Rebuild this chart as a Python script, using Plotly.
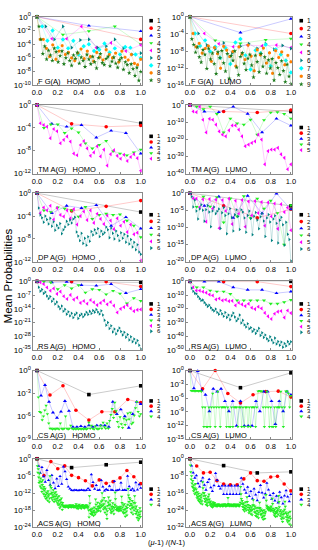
import plotly.graph_objects as go

# ---------------- data: log10(mean probability) per series (series 1, 2, 3, ...) ----------------
FGA_HOMO = [
    [0],
    [0, -3.3],
    [0, -1.3, -2.1],
    [0, -2.6, -2.1, -1.4, -4.0],
    [0, -3.2, -3.2, -1.4, -4.5, -3.8, -5.0, -4.1],
    [0, -1.4, -3.3, -1.4, -4.5, -3.4, -3.3, -4.5, -4.3, -3.3, -4.6, -5.5, -5.3],
    [0, -1.4, -3.5, -2.0, -4.5, -3.3, -4.6, -3.5, -5.5, -4.3, -4.0, -5.0, -4.8, -3.9, -5.2, -4.6, -5.5, -4.4, -4.5, -5.5, -6.0],
    [0, -3.3, -3.3, -4.6, -5.8, -4.1, -6.2, -5.0, -4.2, -5.5, -5.2, -6.0, -6.4, -5.3, -4.7, -6.1, -5.0, -5.8, -6.5, -5.2,
     -5.9, -6.3, -4.8, -5.5, -6.0, -5.3, -6.6, -5.0, -5.9, -6.3, -5.5, -6.8, -7.0, -6.2],
    [0, -1.4, -3.3, -5.4, -4.3, -6.2, -4.9, -5.6, -6.4, -4.6, -5.1, -6.6, -5.7, -5.0, -6.9, -6.0, -5.3, -6.4, -7.1, -5.6,
     -6.1, -5.2, -6.8, -5.9, -6.4, -7.3, -5.5, -6.2, -6.9, -5.8, -6.6, -7.5, -6.0, -5.4, -6.7, -7.0, -6.1, -5.8, -7.2, -6.5,
     -5.9, -6.8, -7.4, -6.3, -6.0, -7.7, -6.6, -7.0, -8.2, -6.9, -7.6, -8.6, -7.4, -9.3, -8.0],
]
FGA_LUMO = [
    [0],
    [0, -3.9],
    [0, -3.7, -0.5],
    [0, -5.5, -6.2, -5.4, -5.1],
    [0, -3.9, -6.3, -7.0, -6.6, -6.8, -6.6, -7.2],
    [0, -3.9, -6.6, -7.5, -6.1, -8.5, -6.9, -6.3, -7.4, -6.3, -7.6, -6.7, -7.4],
    [0, -3.9, -6.8, -5.5, -8.1, -7.0, -9.6, -7.3, -11.0, -6.0, -5.2, -9.0, -12.3, -7.8, -8.5, -6.5, -11.5, -7.6, -8.8, -10.2, -13.0],
    [0, -3.9, -7.0, -6.2, -8.5, -7.4, -6.8, -10.4, -7.2, -8.6, -12.0, -6.9, -7.8, -9.3, -8.1, -11.5, -7.0, -8.7, -10.0, -6.6,
     -9.2, -12.6, -7.7, -8.9, -7.3, -10.8, -8.4, -13.2, -7.9, -9.5, -8.2, -11.2, -9.0, -10.5],
    [0, -5.2, -6.5, -8.3, -7.1, -9.4, -10.6, -7.7, -8.8, -12.1, -7.4, -9.9, -8.5, -11.0, -13.3, -8.2, -9.6, -7.9, -10.8, -12.7,
     -8.6, -14.4, -9.1, -10.2, -8.0, -11.8, -13.6, -9.3, -8.4, -10.9, -12.4, -9.7, -8.8, -11.3, -14.1, -9.0, -10.5, -12.9, -8.6, -11.6,
     -9.4, -13.2, -10.1, -12.0, -9.8, -14.8, -10.7, -11.9, -13.5, -10.3, -12.6, -15.2, -11.1, -13.9, -15.7],
]
TM_HOMO = [
    [0, -3.2],
    [0, -3.3, -3.8, -3.6],
    [0, -3.3, -3.8, -3.5, -5.7, -4.5, -4.9, -8.5],
    [0, -4.0, -3.4, -3.4, -4.9, -4.1, -4.8, -6.7, -7.6, -7.0, -6.3, -8.1, -8.5, -8.8, -8.3, -7.8],
    [0, -3.2, -3.5, -3.8, -5.8, -4.2, -4.6, -6.7, -6.1, -5.5, -6.4, -8.5, -8.8, -7.0, -6.3, -7.6,
     -8.9, -8.3, -7.2, -9.0, -7.8, -10.6, -8.6, -7.9, -8.9, -9.4, -8.7, -9.8, -9.1, -8.6, -9.3, -11.5],
]
TM_LUMO = [
    [0, -3.8],
    [0, -3.8, -4.4, -2.9],
    [0, -3.8, -4.2, -1.0, -5.2, -16.0, -8.0, -12.0],
    [0, -1.0, -2.5, -1.0, -5.2, -16.0, -7.9, -10.8, -11.5, -8.6, -17.3, -8.8, -4.4, -4.2, -5.2, -7.9],
    [0, -3.8, -4.2, -1.0, -8.6, -16.0, -8.1, -8.6, -11.5, -15.4, -17.3, -18.3, -14.8, -11.9, -11.9, -14.4,
     -18.3, -24.0, -23.1, -22.1, -21.2, -17.3, -20.2, -34.6, -26.9, -26.0, -26.0, -25.0, -28.8, -30.8, -37.5, -34.6],
]
DP_HOMO = [
    [0, -3.3],
    [0, -3.1, -2.3, -1.3],
    [0, -3.5, -2.2, -2.6, -2.1, -5.7, -4.2, -6.2],
    [0, -3.0, -3.3, -2.5, -2.7, -3.0, -4.1, -2.4, -4.5, -3.8, -3.6, -3.8, -3.7, -4.8, -5.7, -7.7],
    [0, -3.5, -2.5, -3.0, -2.2, -4.6, -2.6, -3.8, -4.1, -3.0, -4.4, -2.8, -5.5, -4.0, -3.2, -4.7,
     -3.0, -5.2, -3.6, -4.5, -5.4, -3.9, -4.8, -6.3, -4.4, -5.7, -5.0, -6.8, -5.5, -7.2, -6.9, -11.8],
    [0, -2.6, -3.8, -4.3, -5.1, -4.0, -4.6, -5.4, -4.4, -5.8, -5.0, -6.5, -5.6, -6.1, -5.3, -7.1,
     -6.4, -5.9, -4.9, -5.5, -4.7, -5.2, -4.5, -4.2, -6.8, -7.5, -8.3, -7.0, -8.8, -7.9, -9.1, -7.6,
     -8.4, -6.7, -7.3, -6.4, -7.0, -6.2, -7.6, -6.6, -7.2, -6.9, -5.9, -6.4, -7.8, -6.1, -7.0, -8.0,
     -6.6, -7.4, -8.3, -6.9, -7.9, -7.2, -8.6, -7.5, -8.9, -8.1, -9.4, -8.6, -9.9, -9.0, -10.3, -10.7],
]
DP_LUMO = [
    [0, -3.7],
    [0, -3.7, -7.2, -4.7],
    [0, -3.7, -1.0, -7.2, -0.8, -5.9, -0.1, -4.7],
    [0, -4.0, -1.0, -3.9, -1.2, -8.5, -1.5, -6.8, -0.9, -7.3, -1.6, -4.5, -2.2, -5.8, -15.0, -3.5],
    [0, -1.5, -1.6, -4.1, -1.8, -8.3, -1.7, -4.5, -1.9, -10.2, -2.0, -5.2, -1.6, -9.0, -2.2, -6.0,
     -2.0, -9.8, -2.4, -6.5, -2.3, -5.8, -2.6, -9.5, -2.7, -6.8, -3.0, -10.4, -3.2, -5.5, -4.2, -10.8],
    [0, -1.0, -4.0, -2.0, -5.2, -7.5, -4.6, -3.4, -5.0, -8.2, -4.8, -3.6, -5.5, -9.8, -5.2, -4.0,
     -6.0, -5.3, -4.6, -10.3, -5.7, -4.2, -6.5, -11.8, -6.0, -4.5, -7.1, -11.0, -6.3, -4.8, -6.8, -10.6,
     -4.8, -5.5, -7.2, -11.4, -6.5, -5.2, -7.4, -12.1, -6.7, -5.6, -7.8, -10.4, -6.9, -5.9, -8.1, -12.6,
     -7.2, -6.2, -8.4, -13.8, -7.5, -6.6, -8.8, -14.5, -7.9, -7.0, -9.2, -15.2, -8.5, -12.0, -13.5, -19.8],
]
RS_HOMO = [
    [0, -0.5],
    [0, -0.2, -0.2, -2.6],
    [0, -0.5, -0.2, -1.9, -2.2, -1.4, -6.0, -4.0],
    [0, -0.2, -0.5, -4.0, -1.9, -3.6, -1.9, -5.7, -4.0, -4.3, -6.6, -4.8, -6.2, -11.2, -8.6, -10.0],
    [0, -0.5, -1.4, -3.1, -4.8, -3.6, -6.4, -5.2, -7.6, -9.0, -6.9, -9.3, -8.3, -11.0, -10.0, -11.4,
     -9.5, -10.7, -12.1, -11.0, -9.8, -11.7, -10.5, -12.4, -15.9, -14.0, -13.1, -12.1, -13.8, -15.2, -14.5, -14.3],
    [0, -3.0, -5.0, -4.1, -6.2, -5.4, -7.5, -8.8, -7.7, -10.2, -9.0, -11.6, -10.5, -12.8, -14.0, -12.6,
     -15.3, -14.2, -16.8, -15.5, -17.6, -16.3, -18.5, -17.0, -16.1, -18.9, -17.4, -16.6, -18.1, -17.0, -15.7, -16.9,
     -15.2, -16.4, -14.9, -15.8, -14.3, -15.6, -16.7, -15.0, -17.2, -19.8, -22.4, -21.0, -24.1, -22.6, -25.8, -24.3,
     -26.9, -25.2, -23.8, -25.6, -27.4, -26.0, -28.5, -27.1, -29.9, -28.3, -30.8, -29.4, -31.5, -30.2, -32.6, -34.5],
]
RS_LUMO = [
    [0, 0],
    [0, -0.2, -0.2, -3.8],
    [0, -0.2, -0.2, -4.3, -6.2, -6.2, -8.6, -7.5],
    [0, -4.3, -4.3, -6.7, -7.4, -7.4, -9.1, -13.9, -13.9, -13.9, -13.9, -13.9, -16.3, -16.3, -15.1, -13.5],
    [0, -4.3, -6.7, -6.7, -7.5, -8.2, -9.6, -10.3, -13.2, -12.5, -13.9, -13.4, -14.4, -14.2, -17.5, -15.6,
     -16.8, -18.0, -16.3, -19.2, -20.2, -18.5, -19.7, -23.0, -25.5, -27.4, -23.6, -22.1, -21.6, -26.4, -21.2, -23.1],
    [0, -5.0, -7.2, -8.6, -9.1, -11.0, -12.5, -13.9, -13.5, -15.4, -16.8, -18.3, -17.3, -19.2, -20.7, -21.6,
     -20.2, -22.6, -24.0, -21.2, -23.6, -25.5, -22.6, -26.4, -24.5, -27.9, -25.0, -23.1, -26.0, -28.8, -27.4, -24.5,
     -30.3, -28.4, -31.7, -33.2, -30.8, -34.6, -33.7, -36.5, -35.1, -38.0, -36.1, -34.2, -39.4, -37.5, -40.9, -39.0,
     -41.8, -43.3, -40.4, -42.8, -44.7, -41.3, -45.7, -43.8, -46.6, -44.2, -48.0, -45.2, -47.1, -43.8, -45.6, -44.0],
]
CS_HOMO = [
    [0, -3.15, -2.0],
    [0, -3.2, -2.0, -5.2, -6.5, -5.4, -5.4, -3.8, -4.2],
    [0, -3.3, -1.9, -4.1, -5.5, -6.2, -5.4, -4.0, -5.3, -7.4, -7.4, -7.3, -7.4, -7.2,
     -7.4, -7.2, -7.2, -7.2, -7.4, -4.1, -5.7, -5.1, -6.0, -7.5, -5.7, -4.1, -4.4],
    [0, -3.5, -5.4, -5.5, -6.5, -6.0, -5.2, -4.6, -5.7, -6.9, -7.6, -7.6, -7.7, -7.6, -7.7, -7.6,
     -7.6, -7.7, -6.9, -7.6, -7.7, -7.6, -6.0, -7.6, -7.7, -7.6, -7.2, -7.6, -7.7, -7.6, -7.7, -7.6,
     -7.7, -7.6, -7.7, -7.6, -7.7, -7.6, -7.7, -7.6, -6.8, -7.6, -7.2, -7.6, -7.7, -7.3, -7.6, -7.7,
     -7.6, -7.2, -7.6, -6.8, -7.4, -7.6, -6.9, -7.6, -6.6, -5.8, -5.0, -6.2, -4.2, -5.3, -6.7, -7.4,
     -6.1, -7.0, -7.5, -6.3, -7.1, -6.5, -5.6, -6.4, -5.5, -7.0, -6.8, -5.9, -4.9, -4.1, -5.4, -6.0, -5.7],
]
CS_LUMO = [
    [0, -3.75, -0.5],
    [0, -4.0, 0.0, -5.0, -7.1, -5.3, -4.6, -4.5, -5.8],
    [0, -3.9, -0.1, -4.3, -5.3, -8.9, -4.0, -4.6, -4.0, -6.7, -8.9, -6.7, -12.1, -6.7,
     -12.1, -12.1, -12.1, -6.7, -8.9, -4.6, -4.6, -6.7, -11.7, -6.7, -8.9, -4.6, -5.3],
    [0, -4.4, -4.4, -4.4, -4.5, -4.4, -4.4, -4.5, -4.4, -4.6, -8.0, -12.3, -8.0, -12.3, -12.3, -8.0,
     -12.3, -8.0, -5.0, -8.0, -12.3, -8.0, -4.6, -8.0, -12.3, -8.0, -8.0, -8.0, -8.0, -12.3, -8.0, -12.3,
     -12.3, -8.0, -12.3, -8.0, -8.0, -8.0, -12.3, -8.0, -8.0, -12.3, -8.0, -12.3, -8.0, -8.0, -12.3, -8.0,
     -12.3, -8.0, -8.0, -8.0, -12.3, -8.0, -4.5, -4.4, -4.5, -4.5, -8.0, -12.3, -8.0, -4.6, -8.0, -12.3,
     -8.0, -12.3, -12.3, -8.0, -12.3, -8.0, -8.0, -8.0, -4.6, -8.0, -12.3, -8.0, -4.5, -4.5, -5.0, -8.0, -5.5],
]
ACS_HOMO = [
    [0, -3.1, -2.1, -1.2],
    [0, -5.9, -1.0, -3.5, -2.5, -5.8, -6.6, -7.7, -9.5, -7.4, -8.6, -8.0, -6.7, -4.1, -6.3, -8.7],
    [0, -2.5, -5.0, -3.0, -6.2, -8.1, -4.0, -7.5, -9.2, -5.8, -8.4, -10.4, -7.0, -9.6, -6.1, -8.8,
     -2.8, -4.5, -7.2, -9.8, -10.5, -11.0, -11.1, -10.9, -11.0, -11.1, -11.0, -10.9, -11.0, -11.1, -11.0, -10.4,
     -11.0, -5.5, -8.2, -10.6, -9.3, -11.0, -10.9, -7.5, -9.8, -11.2, -10.7, -11.0, -9.5, -10.9, -11.0, -7.9,
     -11.1, -11.0, -10.8, -8.4, -11.0, -10.9, -11.0, -6.0, -9.7, -11.0, -10.5, -11.2, -8.3, -10.8, -9.0, -10.2],
    [0, -2.5, -4.8, -3.6, -6.5, -8.4, -5.2, -7.9, -9.6, -6.8, -10.2, -8.0, -11.5, -9.1, -7.4, -10.6,
     -12.3, -9.8, -11.0, -13.2, -10.4, -12.6, -14.0, -11.7, -13.5, -12.1, -14.6, -11.3, -13.0, -12.4, -15.1, -13.8,
     -6.0, -9.5, -12.2, -10.1, -13.6, -11.8, -14.4, -12.7, -10.9, -13.3, -15.0, -12.0, -14.2, -13.1, -11.6, -14.8,
     -12.5, -14.0, -15.5, -13.4, -16.2, -14.7, -13.0, -15.8, -17.2, -14.3, -16.6, -15.2, -13.8, -16.0, -17.8, -15.4,
     -16.3, -16.6, -16.9, -16.4, -16.7, -17.0, -16.5, -16.8, -16.3, -16.6, -16.9, -16.4, -16.7, -17.1, -16.5, -16.8,
     -16.2, -16.7, -16.9, -16.3, -16.8, -17.0, -16.4, -16.8, -16.2, -16.5, -17.0, -16.4, -16.6, -17.0, -16.5, -16.9,
     -15.8, -16.6, -17.3, -16.4, -16.9, -17.5, -16.3, -16.7, -16.0, -16.6, -17.2, -16.5, -16.8, -17.4, -16.4, -16.7,
     -16.1, -16.7, -17.1, -16.5, -16.8, -17.3, -16.4, -16.9, -16.2, -16.6, -17.0, -16.3, -16.8, -17.2, -16.6, -18.0,
     -20.5, -13.0, -15.6, -17.8, -19.2, -18.4, -17.6, -19.6, -18.9, -17.3, -18.6, -19.9, -18.1, -17.0, -18.8, -19.4,
     -14.2, -16.0, -17.5, -18.6, -17.9, -15.3, -16.8, -18.2, -17.4, -16.5, -15.6, -17.1, -18.4, -16.2, -14.9, -16.7,
     -12.0, -14.5, -16.3, -17.7, -15.8, -13.6, -17.2, -18.8, -16.9, -14.8, -17.6, -19.5, -21.0, -18.3, -16.4, -15.2,
     -13.5, -15.9, -17.4, -16.1, -14.6, -17.9, -19.0, -16.6, -18.5, -17.3, -15.5, -16.8, -18.0, -19.3, -17.1, -16.0,
     -11.8, -14.1, -16.5, -17.8, -17.2, -18.1, -17.5, -16.9, -17.7, -18.3, -17.0, -17.6, -18.2, -16.7, -17.4, -18.0,
     -13.2, -15.4, -17.0, -18.6, -16.2, -19.1, -17.8, -15.8, -18.9, -20.2, -17.5, -16.6, -18.4, -19.8, -17.1, -16.0,
     -10.5, -12.8, -15.0, -13.6, -16.4, -14.2, -17.6, -15.7, -18.8, -16.3, -14.7, -17.1, -19.4, -16.9, -15.3, -18.0,
     -13.0, -15.5, -17.3, -19.2, -16.6, -18.5, -20.6, -17.9, -19.8, -21.5, -18.7, -20.9, -19.5, -17.2, -20.3, -18.4],
]
ACS_LUMO = [
    [0, -3.2, -6.6, -6.1],
    [0, -3.4, -6.6, -6.3, -10.2, -11.8, -12.1, -12.1, -9.4, -6.6, -10.2, -10.5, -8.5, -8.2, -11.8, -15.0],
    [0, -3.3, -6.5, -9.0, -7.8, -11.5, -13.0, -10.4, -8.8, -12.2, -14.6, -11.0, -9.6, -13.4, -15.2, -12.5,
     -6.8, -10.0, -12.8, -14.0, -12.6, -16.6, -12.6, -16.6, -12.6, -16.6, -12.6, -16.6, -12.6, -16.6, -12.6, -16.6,
     -9.0, -11.8, -14.4, -16.0, -13.2, -17.5, -15.1, -18.7, -14.0, -16.8, -19.5, -15.6, -12.4, -15.9, -18.2, -16.3,
     -11.3, -14.5, -17.0, -18.8, -16.1, -19.6, -17.4, -20.5, -15.5, -18.1, -21.0, -17.3, -14.8, -17.7, -19.9, -16.5],
    [0, -3.0, -6.2, -9.5, -8.1, -11.4, -12.9, -10.3, -13.5, -15.0, -12.2, -14.3, -16.4, -13.7, -11.6, -15.8,
     -14.2, -16.9, -18.3, -15.5, -17.7, -19.4, -16.2, -18.8, -20.1, -17.3, -19.0, -20.7, -18.0, -16.6, -19.7, -21.2,
     -10.8, -13.6, -15.9, -17.4, -16.0, -18.6, -20.0, -17.1, -19.3, -21.4, -18.4, -20.6, -21.9, -19.1, -17.6, -20.3,
     -16.5, -18.9, -20.4, -21.6, -19.8, -21.1, -22.3, -20.8, -21.7, -22.6, -20.2, -21.5, -22.1, -21.0, -20.5, -21.8,
     -21.2, -21.8, -22.1, -21.4, -21.9, -22.2, -21.3, -21.7, -21.1, -21.8, -22.0, -21.4, -21.9, -22.2, -21.5, -21.7,
     -21.3, -21.9, -22.1, -21.2, -21.7, -22.0, -21.4, -21.8, -21.1, -21.6, -22.2, -21.3, -21.9, -22.0, -21.5, -21.8,
     -18.2, -21.0, -21.9, -21.4, -21.8, -22.1, -21.3, -21.7, -21.2, -21.9, -22.0, -21.5, -21.8, -22.2, -21.4, -21.6,
     -21.1, -21.7, -22.1, -21.4, -21.9, -22.2, -21.3, -21.8, -21.2, -21.6, -22.0, -21.5, -21.8, -22.1, -21.3, -20.4,
     -13.0, -16.4, -18.7, -20.9, -19.6, -22.4, -21.3, -23.8, -20.6, -22.9, -24.5, -21.8, -23.3, -20.2, -22.0, -24.0,
     -17.8, -20.1, -22.6, -21.4, -23.9, -25.3, -22.8, -24.6, -21.9, -23.5, -25.8, -24.1, -22.5, -26.2, -23.7, -21.6,
     -19.2, -21.7, -23.4, -25.0, -22.2, -24.8, -26.6, -23.0, -25.5, -27.1, -24.3, -22.7, -25.9, -27.6, -24.9, -23.2,
     -20.4, -22.8, -24.4, -26.1, -23.6, -25.7, -27.4, -24.2, -26.8, -28.3, -25.1, -23.9, -26.5, -28.0, -25.4, -24.6,
     -16.8, -19.5, -21.8, -23.1, -22.4, -23.6, -22.9, -24.0, -23.3, -22.6, -23.8, -24.4, -23.0, -22.2, -23.7, -24.2,
     -18.5, -21.0, -23.2, -25.0, -24.1, -26.3, -23.6, -25.6, -27.0, -24.7, -22.9, -25.2, -26.8, -24.3, -23.4, -25.9,
     -17.2, -20.0, -22.5, -24.6, -26.7, -23.9, -25.8, -28.1, -24.8, -27.3, -29.4, -26.0, -24.4, -27.8, -25.5, -23.7,
     -19.9, -22.3, -24.9, -27.2, -25.6, -28.6, -26.3, -29.5, -27.5, -25.1, -28.9, -30.6, -26.9, -24.6, -27.9, -31.0],
]

PANEL_TITLES = ["F G(A)   HOMO", "F G(A)   LUMO", "TM A(G)   HOMO", "TM A(G)   LUMO",
                "DP A(G)   HOMO", "DP A(G)   LUMO", "RS A(G)   HOMO", "RS A(G)   LUMO",
                "CS A(G)   HOMO", "CS A(G)   LUMO", "ACS A(G)   HOMO", "ACS A(G)   LUMO"]
# y tick exponents (first = bottom of axis)
Y_TICK_EXPS = [
    [-10, -8, -6, -4, -2, 0], [-16, -12, -8, -4, 0],
    [-12, -8, -4, 0], [-40, -30, -20, -10, 0],
    [-12, -8, -4, 0], [-20, -15, -10, -5, 0],
    [-35, -28, -21, -14, -7, 0], [-50, -40, -30, -20, -10, 0],
    [-9, -6, -3, 0], [-15, -12, -9, -6, -3, 0],
    [-24, -18, -12, -6, 0], [-32, -24, -16, -8, 0],
]
X_TICKS = [0.0, 0.2, 0.4, 0.6, 0.8, 1.0]
X_TICK_TEXT = ["0.0", "0.2", "0.4", "0.6", "0.8", "1.0"]
SERIES_LABELS = ["1", "2", "3", "4", "5", "6", "7", "8", "9"]

PANEL_DATA = [FGA_HOMO, FGA_LUMO, TM_HOMO, TM_LUMO, DP_HOMO, DP_LUMO,
              RS_HOMO, RS_LUMO, CS_HOMO, CS_LUMO, ACS_HOMO, ACS_LUMO]

# ---------------- styling ----------------
W, H = 318, 550
COLORS = ["#000000", "#ff0000", "#0000ff", "#22ee22", "#ff00ff", "#008080", "#00ffff", "#ff8000", "#1b7a1b"]
SYMBOLS = ["square", "circle", "triangle-up", "triangle-down", "triangle-left",
           "triangle-right", "diamond", "hexagon", "star"]
FONT = "Liberation Sans, Arial, sans-serif"

COL_X = [(32, 143), (188, 296)]
ROW_TOP = [11, 101, 191, 281, 372, 462]
ROW_H = 70
LEG_MX = [152, 305]
LEG_Y0 = [15, 15, 133, 124, 213, 213, 304, 304, 403, 403, 493, 493]
LEG_DY = [7.6, 8.1, 5.7, 5.75, 6.8, 7.0, 5.6, 5.8, 5.3, 5.3, 5.3, 5.3]


def rgba(hexc, a):
    h = hexc.lstrip("#")
    return "rgba(%d,%d,%d,%.2f)" % (int(h[0:2], 16), int(h[2:4], 16), int(h[4:6], 16), a)


fig = go.Figure()
layout = dict(width=W, height=H, autosize=False, margin=dict(l=0, r=0, t=0, b=0, pad=0),
              paper_bgcolor="white", plot_bgcolor="rgba(0,0,0,0)", showlegend=False,
              font=dict(family=FONT, size=8, color="black"))
annotations = []
leg_x, leg_y, leg_c, leg_s = [], [], [], []

for i, data in enumerate(PANEL_DATA):
    r, c = divmod(i, 2)
    n = i + 1
    sx = "" if n == 1 else str(n)
    x0, x1 = COL_X[c]
    top = ROW_TOP[r]
    ymin = Y_TICK_EXPS[i][0]
    layout["xaxis" + sx] = dict(domain=[x0 / W, x1 / W], range=[-0.035, 1.015], anchor="y" + sx,
                                tickvals=X_TICKS, ticktext=X_TICK_TEXT, showline=True, mirror=True,
                                linecolor="#8a8a8a", linewidth=1, ticks="inside", ticklen=2,
                                tickcolor="#8a8a8a", showgrid=False, zeroline=False,
                                tickfont=dict(size=7.5), fixedrange=True)
    layout["yaxis" + sx] = dict(domain=[1 - (top + ROW_H) / H, 1 - top / H], type="log",
                                range=[ymin, 0], anchor="x" + sx,
                                tickvals=[10.0 ** e for e in Y_TICK_EXPS[i]],
                                ticktext=["10<sup>%d</sup>" % e for e in Y_TICK_EXPS[i]],
                                showline=True, mirror=True, linecolor="#8a8a8a", linewidth=1,
                                ticks="inside", ticklen=2, tickcolor="#8a8a8a", showgrid=False,
                                zeroline=False, tickfont=dict(size=8), fixedrange=True)
    for s, exps in enumerate(data):
        npts = len(exps)
        xs = [k / (npts - 1) for k in range(npts)] if npts > 1 else [0.0]
        ys = [10.0 ** e for e in exps]
        msize = 3.6 if npts < 60 else 3.0
        if SYMBOLS[s] in ("star", "diamond", "hexagon"):
            msize = 3.4
        fig.add_trace(go.Scatter(
            x=xs, y=ys, mode="lines+markers", xaxis="x" + sx, yaxis="y" + sx,
            line=dict(color=rgba(COLORS[s], 0.35), width=0.6),
            marker=dict(symbol=SYMBOLS[s], size=msize, color=COLORS[s], line=dict(width=0)),
            cliponaxis=False, hoverinfo="skip"))
        ly = LEG_Y0[i] + s * LEG_DY[i]
        leg_x.append(LEG_MX[c]); leg_y.append(ly); leg_c.append(COLORS[s]); leg_s.append(SYMBOLS[s])
        annotations.append(dict(x=(LEG_MX[c] + 3.5) / W, y=1 - ly / H, xref="paper", yref="paper",
                                text=SERIES_LABELS[s], showarrow=False, xanchor="left", yanchor="middle",
                                font=dict(size=6.5 if len(data) > 6 else 6)))
    annotations.append(dict(x=(x0 + 3) / W, y=1 - (top + 66) / H, xref="paper", yref="paper",
                            text=PANEL_TITLES[i], showarrow=False, xanchor="left", yanchor="middle",
                            font=dict(size=7.5)))

# legend markers on a full-page overlay axis (pixel coordinates)
layout["xaxis13"] = dict(domain=[0, 1], range=[0, W], visible=False, fixedrange=True, anchor="y13")
layout["yaxis13"] = dict(domain=[0, 1], range=[H, 0], visible=False, fixedrange=True, anchor="x13")
fig.add_trace(go.Scatter(x=leg_x, y=leg_y, mode="markers", xaxis="x13", yaxis="y13",
                         marker=dict(symbol=leg_s, color=leg_c, size=3.6, line=dict(width=0)),
                         hoverinfo="skip", cliponaxis=False))

annotations.append(dict(x=6 / W, y=1 - 275 / H, xref="paper", yref="paper", text="Mean Probabilities",
                        textangle=-90, showarrow=False, xanchor="center", yanchor="middle",
                        font=dict(size=11.5)))
annotations.append(dict(x=168 / W, y=1 - 547 / H, xref="paper", yref="paper",
                        text="(<i>μ</i>-1) /(<i>N</i>-1)", showarrow=False, xanchor="center",
                        yanchor="middle", font=dict(size=7.5)))
layout["annotations"] = annotations
fig.update_layout(**layout)
fig.write_html("out.html", config={"displayModeBar": False, "staticPlot": True},
               post_script="document.body.style.margin='0';document.body.style.overflow='hidden';")
